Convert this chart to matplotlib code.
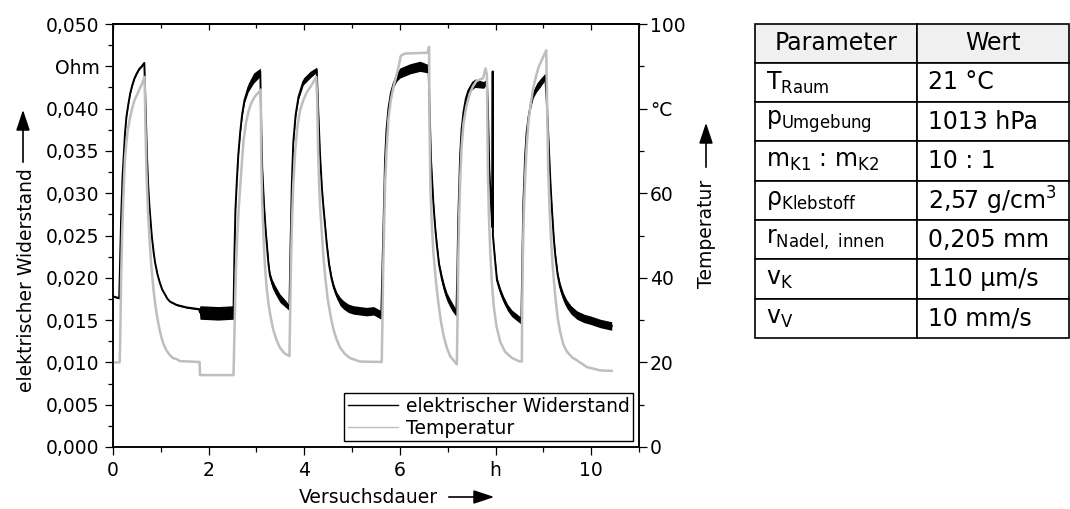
import numpy as np
import matplotlib.pyplot as plt
from matplotlib.lines import Line2D
from matplotlib.ticker import MultipleLocator

plt.rcParams['font.family'] = ['DejaVu Sans']
plt.rcParams['mathtext.fontset'] = 'dejavusans'

# elektrischer Widerstand (Ohm) ueber Versuchsdauer (h), dazu die Streubreite (Rauschen)
zeit_R = [0.00, 0.13, 0.14, 0.17, 0.20, 0.25, 0.28, 0.32, 0.36, 0.40, 0.45, 0.50, 0.55, 0.60, 0.655,
          0.68, 0.71, 0.735, 0.76, 0.81, 0.85, 0.88, 0.93, 0.98, 1.03, 1.09, 1.14, 1.19, 1.26, 1.33, 1.54, 1.80,
          1.82, 2.20, 2.52,
          2.54, 2.56, 2.59, 2.62, 2.66, 2.70, 2.75, 2.83, 2.94, 3.06,
          3.08, 3.10, 3.12, 3.16, 3.19, 3.22, 3.25, 3.28, 3.33, 3.39, 3.49, 3.63, 3.69,
          3.71, 3.74, 3.77, 3.82, 3.88, 3.98, 4.12, 4.26,
          4.29, 4.33, 4.37, 4.40, 4.44, 4.47, 4.52, 4.57, 4.62, 4.68, 4.75, 4.82, 4.92, 5.03, 5.30, 5.45, 5.61,
          5.63, 5.66, 5.69, 5.72, 5.76, 5.81, 5.87, 5.93, 6.00, 6.21, 6.42, 6.60,
          6.62, 6.65, 6.70, 6.74, 6.77, 6.82, 6.88, 6.93, 6.98, 7.04, 7.09, 7.18,
          7.20, 7.22, 7.26, 7.29, 7.33, 7.38, 7.43, 7.50, 7.57, 7.75, 7.82,
          7.84, 7.87, 7.93, 7.94, 7.945, 7.99, 8.03, 8.10, 8.17, 8.25, 8.34, 8.54,
          8.56, 8.58, 8.62, 8.65, 8.69, 8.74, 8.79, 8.86, 8.93, 9.04,
          9.07, 9.11, 9.15, 9.18, 9.22, 9.25, 9.30, 9.35, 9.42, 9.49, 9.58, 9.70, 9.85, 9.98, 10.19, 10.43]
widerstand = [0.0178, 0.0176, 0.0200, 0.0270, 0.0320, 0.0370, 0.0390, 0.0405, 0.0418, 0.0427, 0.0436, 0.0442, 0.0447, 0.0450, 0.0454,
              0.0405, 0.0345, 0.0310, 0.0286, 0.0250, 0.0230, 0.0218, 0.0204, 0.0194, 0.0186, 0.0180, 0.0175, 0.0172, 0.0170, 0.0168, 0.0165, 0.0163,
              0.0159, 0.0158, 0.0159,
              0.0229, 0.0280, 0.0315, 0.0345, 0.0372, 0.0393, 0.0410, 0.0425, 0.0436, 0.0442,
              0.0444, 0.0380, 0.0330, 0.0284, 0.0258, 0.0237, 0.0217, 0.0203, 0.0193, 0.0186, 0.0176, 0.0168, 0.0164,
              0.0229, 0.0310, 0.0360, 0.0393, 0.0414, 0.0432, 0.0440, 0.0446,
              0.0400, 0.0345, 0.0305, 0.0284, 0.0258, 0.0240, 0.0215, 0.0199, 0.0188, 0.0179, 0.0172, 0.0168, 0.0164, 0.0162, 0.0160, 0.0161, 0.0156,
              0.0200, 0.0268, 0.0340, 0.0375, 0.0400, 0.0418, 0.0430, 0.0437, 0.0442, 0.0447, 0.0450, 0.0447,
              0.0400, 0.0340, 0.0288, 0.0258, 0.0240, 0.0215, 0.0198, 0.0187, 0.0178, 0.0171, 0.0166, 0.0158,
              0.0200, 0.0268, 0.0345, 0.0375, 0.0396, 0.0412, 0.0421, 0.0427, 0.0430, 0.0428, 0.0432,
              0.0400, 0.0327, 0.0260, 0.0444, 0.0250, 0.0221, 0.0197, 0.0184, 0.0174, 0.0165, 0.0158, 0.0149,
              0.0220, 0.0285, 0.0345, 0.0372, 0.0390, 0.0406, 0.0417, 0.0425, 0.0430, 0.0438,
              0.0410, 0.0360, 0.0310, 0.0280, 0.0245, 0.0226, 0.0203, 0.0189, 0.0177, 0.0169, 0.0162, 0.0156, 0.0152, 0.0150, 0.0146, 0.0143]
streuung = [0.0001, 0.0001, 0.0001, 0.0001, 0.0001, 0.0001, 0.0001, 0.0001, 0.0001, 0.0001, 0.0001, 0.0001, 0.0001, 0.0001, 0.0001,
            0.0001, 0.0001, 0.0001, 0.0001, 0.0001, 0.0001, 0.0001, 0.0001, 0.0001, 0.0001, 0.0001, 0.0001, 0.0001, 0.0001, 0.0001, 0.0001, 0.0001,
            0.0008, 0.0008, 0.0008,
            0.0002, 0.0002, 0.0002, 0.0002, 0.0002, 0.0003, 0.0003, 0.0005, 0.0006, 0.0005,
            0.0004, 0.0002, 0.0002, 0.0003, 0.0003, 0.0004, 0.0004, 0.0004, 0.0005, 0.0005, 0.0005, 0.0004, 0.0003,
            0.0002, 0.0002, 0.0002, 0.0003, 0.0003, 0.0004, 0.0004, 0.0003,
            0.0002, 0.0002, 0.0002, 0.0003, 0.0003, 0.0003, 0.0004, 0.0004, 0.0004, 0.0004, 0.0005, 0.0005, 0.0005, 0.0005, 0.0005, 0.0005, 0.0005,
            0.0002, 0.0002, 0.0002, 0.0003, 0.0003, 0.0004, 0.0005, 0.0005, 0.0006, 0.0006, 0.0006, 0.0005,
            0.0002, 0.0002, 0.0003, 0.0003, 0.0004, 0.0004, 0.0005, 0.0005, 0.0005, 0.0005, 0.0005, 0.0004,
            0.0002, 0.0002, 0.0002, 0.0003, 0.0003, 0.0004, 0.0004, 0.0005, 0.0005, 0.0004, 0.0003,
            0.0002, 0.0002, 0.0002, 0.0000, 0.0002, 0.0003, 0.0004, 0.0004, 0.0004, 0.0004, 0.0004, 0.0004,
            0.0002, 0.0002, 0.0002, 0.0003, 0.0003, 0.0004, 0.0004, 0.0005, 0.0005, 0.0004,
            0.0002, 0.0002, 0.0002, 0.0003, 0.0003, 0.0004, 0.0004, 0.0005, 0.0005, 0.0005, 0.0005, 0.0005, 0.0005, 0.0005, 0.0005, 0.0005]

# Temperatur (°C) ueber Versuchsdauer (h)
zeit_T = [0.00, 0.14, 0.15, 0.17, 0.19, 0.21, 0.23, 0.25, 0.28, 0.31, 0.35, 0.40, 0.45, 0.50, 0.55, 0.60, 0.66,
          0.68, 0.70, 0.73, 0.76, 0.80, 0.84, 0.88, 0.92, 0.96, 1.00, 1.05, 1.12, 1.19, 1.26, 1.33, 1.40, 1.81, 1.82, 2.52,
          2.53, 2.55, 2.57, 2.60, 2.63, 2.66, 2.70, 2.73, 2.78, 2.83, 2.88, 2.94, 3.00, 3.06, 3.09,
          3.10, 3.12, 3.15, 3.18, 3.21, 3.25, 3.30, 3.35, 3.42, 3.49, 3.58, 3.69,
          3.70, 3.72, 3.74, 3.77, 3.81, 3.86, 3.91, 3.98, 4.05, 4.15, 4.25,
          4.27, 4.29, 4.31, 4.33, 4.37, 4.40, 4.44, 4.49, 4.55, 4.61, 4.68, 4.75, 4.85, 4.96, 5.17, 5.62,
          5.635, 5.65, 5.67, 5.69, 5.72, 5.76, 5.81, 5.87, 5.93, 5.97, 6.02, 6.10, 6.30, 6.58, 6.61,
          6.62, 6.64, 6.67, 6.70, 6.75, 6.80, 6.86, 6.91, 6.98, 7.05, 7.19,
          7.205, 7.22, 7.24, 7.26, 7.29, 7.33, 7.39, 7.46, 7.53, 7.60, 7.74, 7.79, 7.82,
          7.84, 7.86, 7.89, 7.92, 7.96, 8.02, 8.10, 8.20, 8.35, 8.51, 8.55,
          8.555, 8.57, 8.59, 8.62, 8.65, 8.69, 8.74, 8.79, 8.85, 8.90, 9.00, 9.06,
          9.08, 9.10, 9.13, 9.16, 9.20, 9.25, 9.30, 9.35, 9.42, 9.49, 9.60, 9.70, 9.91, 10.19, 10.43]
temperatur = [20.0, 20.0, 25.0, 40.0, 50.0, 57.0, 63.0, 68.0, 72.0, 75.0, 77.5, 80.0, 82.0, 83.2, 84.5, 85.7, 87.5,
              75.0, 65.0, 56.0, 49.7, 43.0, 38.0, 34.0, 31.0, 28.5, 26.5, 24.5, 22.8, 21.7, 21.0, 20.8, 20.3, 20.1, 17.0, 17.0,
              22.0, 32.0, 42.0, 50.0, 56.5, 61.5, 68.0, 72.5, 76.5, 79.2, 81.0, 82.4, 83.3, 84.0, 84.5,
              68.0, 58.0, 49.0, 42.5, 38.0, 34.0, 30.5, 27.8, 25.3, 23.5, 22.2, 21.5,
              28.0, 42.0, 52.0, 62.0, 70.0, 76.0, 79.5, 82.0, 83.8, 85.5, 87.5,
              82.0, 70.0, 62.0, 57.0, 50.0, 45.0, 40.0, 35.0, 31.0, 27.8, 25.3, 23.5, 22.0, 21.0, 20.2, 20.1,
              30.0, 42.0, 52.0, 62.0, 70.0, 77.5, 82.0, 85.3, 88.0, 89.8, 92.5, 93.0, 93.1, 93.2, 94.6,
              75.0, 60.0, 52.0, 46.0, 39.5, 34.5, 29.5, 26.5, 23.5, 21.5, 19.5,
              30.0, 44.0, 55.0, 63.0, 71.0, 76.5, 80.5, 83.5, 85.3, 86.5, 87.2, 89.5, 88.0,
              65.0, 55.0, 46.0, 39.5, 33.5, 28.5, 24.8, 22.5, 21.0, 20.2, 20.2,
              30.0, 44.0, 55.0, 64.0, 71.0, 77.0, 81.5, 85.0, 87.8, 89.8, 92.3, 93.8,
              80.0, 66.0, 56.0, 49.0, 42.0, 35.5, 30.5, 27.3, 24.2, 22.6, 21.2, 20.5, 18.9, 18.1, 18.0]

x_ticks = [0, 2, 4, 6, 8, 10]
x_labels = ['0', '2', '4', '6', 'h', '10']
y_ticks = [0.0, 0.005, 0.010, 0.015, 0.020, 0.025, 0.030, 0.035, 0.040, 0.045, 0.050]
y_labels = ['0,000', '0,005', '0,010', '0,015', '0,020', '0,025', '0,030', '0,035', '0,040', 'Ohm', '0,050']
t_ticks = [0, 20, 40, 60, 80, 100]
t_labels = ['0', '20', '40', '60', '°C', '100']

spalten = ['Parameter', 'Wert']
parameter = [r'$\mathrm{T}_{\mathrm{Raum}}$', r'$\mathrm{p}_{\mathrm{Umgebung}}$', r'$\mathrm{m}_{\mathrm{K1}}$ : $\mathrm{m}_{\mathrm{K2}}$',
             r'$\mathrm{ρ}_{\mathrm{Klebstoff}}$', r'$\mathrm{r}_{\mathrm{Nadel,\ innen}}$', r'$\mathrm{v}_{\mathrm{K}}$', r'$\mathrm{v}_{\mathrm{V}}$']
werte = ['21 °C', '1013 hPa', '10 : 1', r'2,57 g/cm$^{3}$', '0,205 mm', '110 µm/s', '10 mm/s']

assert len(zeit_R) == len(widerstand) == len(streuung)
assert len(zeit_T) == len(temperatur)

FS = 13.5
W, H = 1070, 509
grau = '#bebebe'

fig = plt.figure(figsize=(W / 100, H / 100), dpi=100)
ax = fig.add_axes([113 / W, 1 - 447 / H, (639 - 113) / W, (447 - 24) / H])
ax2 = ax.twinx()

zR = np.array(zeit_R)
R = np.array(widerstand)
S = np.array(streuung)
ax.fill_between(zR, R - S, R + S, color='k', lw=0)
ax.plot(zR, R, color='k', lw=1.4)
ax2.plot(zeit_T, temperatur, color=grau, lw=1.8)

ax.set_xlim(0, 11)
ax.set_ylim(0, 0.05)
ax2.set_ylim(0, 100)

ax.set_xticks(x_ticks)
ax.set_xticklabels(x_labels, fontsize=FS)
ax.xaxis.set_minor_locator(MultipleLocator(1))
ax.set_yticks(y_ticks)
ax.set_yticklabels(y_labels, fontsize=FS)
ax.yaxis.set_minor_locator(MultipleLocator(0.0025))
ax2.set_yticks(t_ticks)
ax2.set_yticklabels(t_labels, fontsize=FS)
ax2.yaxis.set_minor_locator(MultipleLocator(10))

ax.tick_params(which='both', direction='out', width=0.9, right=False, top=False)
ax.tick_params(which='major', length=5.8)
ax.tick_params(which='minor', length=3.4)
ax.tick_params(axis='x', pad=4)
ax.tick_params(axis='y', pad=4)
ax2.tick_params(which='both', direction='out', width=0.9)
ax2.tick_params(which='major', length=5.8, pad=2)
ax2.tick_params(which='minor', length=3.4)

oben = ax.secondary_xaxis('top')
oben.set_xticks(x_ticks)
oben.xaxis.set_minor_locator(MultipleLocator(1))
oben.tick_params(which='both', direction='in', labeltop=False, width=0.9)
oben.tick_params(which='major', length=4.3)
oben.tick_params(which='minor', length=2.9)

for a in (ax, ax2, oben):
    for s in a.spines.values():
        s.set_linewidth(1.1)

# Achsenbeschriftungen mit Pfeil
pfeil = dict(arrowstyle='-|>,head_length=0.9,head_width=0.3', color='k', lw=1.2, mutation_scale=14)
fig.text(368 / W, 6 / H, 'Versuchsdauer', fontsize=FS, ha='center', va='baseline')
ax.annotate('', xy=(497, H - 497), xytext=(446, H - 497), xycoords='figure pixels', arrowprops=pfeil)
fig.text(32 / W, 1 - 280 / H, 'elektrischer Widerstand', fontsize=FS, rotation=90,
         rotation_mode='anchor', ha='center', va='baseline')
ax.annotate('', xy=(23, H - 107), xytext=(23, H - 165), xycoords='figure pixels', arrowprops=pfeil)
fig.text(712 / W, 1 - 234 / H, 'Temperatur', fontsize=FS, rotation=90,
         rotation_mode='anchor', ha='center', va='baseline')
ax.annotate('', xy=(706, H - 120), xytext=(706, H - 170), xycoords='figure pixels', arrowprops=pfeil)

griffe = [Line2D([], [], color='k', lw=1.0), Line2D([], [], color=grau, lw=1.0)]
leg = ax2.legend(griffe, ['elektrischer Widerstand', 'Temperatur'], loc='lower right', fontsize=FS,
                 frameon=True, fancybox=False, edgecolor='k', framealpha=1, borderaxespad=0.3,
                 handlelength=2.7, handletextpad=0.4, borderpad=0.2, labelspacing=0.15)
leg.get_frame().set_linewidth(1.0)

# Parametertabelle
tab_ax = fig.add_axes([755 / W, 1 - 338 / H, (1069 - 755) / W, (338 - 23.5) / H])
tab_ax.axis('off')
zeilen = [[p, w] for p, w in zip(parameter, werte)]
tbl = tab_ax.table(cellText=zeilen, colLabels=spalten, colColours=['#f0f0f0', '#f0f0f0'],
                   cellLoc='left', colLoc='center', colWidths=[162, 152], bbox=[0, 0, 1, 1])
tbl.auto_set_font_size(False)
tbl.set_fontsize(17)
for zelle in tbl.get_celld().values():
    zelle.set_linewidth(1.2)
    zelle.PAD = 0.07

fig.savefig('out.png', dpi=100)
